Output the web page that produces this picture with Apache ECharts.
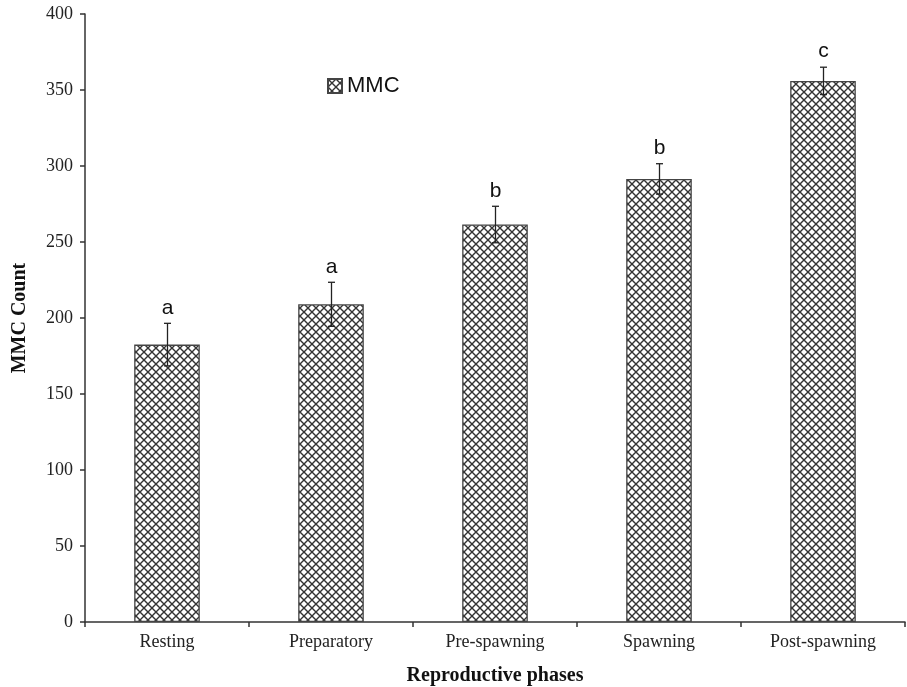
<!DOCTYPE html>
<html>
<head>
<meta charset="utf-8">
<script src="https://cdn.jsdelivr.net/npm/echarts@6/dist/echarts.min.js"></script>
<style>
  html, body { margin: 0; padding: 0; background: #fff; }
  #chart { width: 907px; height: 687px; }
</style>
</head>
<body>
<div id="chart"></div>
<script>
// Reproductive phases and MMC counts (mean ± error)
const phases = ['Resting', 'Preparatory', 'Pre-spawning', 'Spawning', 'Post-spawning'];
const mmcMean = [182.5, 209, 261.5, 291.5, 356];
const mmcError = [14, 14.5, 12, 10, 9];
const groupLetters = ['a', 'a', 'b', 'b', 'c'];
const yTicks = [0, 50, 100, 150, 200, 250, 300, 350, 400];

// Cross-hatch fill tile
function hatchTile() {
  const s = 8;
  const c = document.createElement('canvas');
  c.width = s; c.height = s;
  const g = c.getContext('2d');
  g.fillStyle = '#ffffff';
  g.fillRect(0, 0, s, s);
  g.strokeStyle = '#333333';
  g.lineWidth = 1.4;
  g.beginPath();
  g.moveTo(0, 0); g.lineTo(s, s);
  g.moveTo(s, 0); g.lineTo(0, s);
  g.stroke();
  return c;
}
const hatch = { image: hatchTile(), repeat: 'repeat' };

const chart = echarts.init(document.getElementById('chart'), null, { renderer: 'canvas' });

const errData = phases.map((p, i) => [i, mmcMean[i] - mmcError[i], mmcMean[i] + mmcError[i]]);

chart.setOption({
  animation: false,
  backgroundColor: '#ffffff',
  grid: { left: 85, right: 2, top: 14, bottom: 65, containLabel: false, outerBoundsMode: 'none' },
  legend: {
    left: 322, top: 70,
    itemWidth: 14, itemHeight: 14, itemGap: 4,
    icon: 'rect',
    data: ['MMC'],
    textStyle: { fontFamily: 'Liberation Sans, Arial', fontSize: 22, color: '#111', padding: [0, 0, 0, 0] }
  },
  xAxis: {
    type: 'category',
    data: phases,
    name: 'Reproductive phases',
    nameLocation: 'middle',
    nameGap: 44,
    nameTextStyle: { fontFamily: 'Liberation Serif', fontWeight: 'bold', fontSize: 20, color: '#111' },
    axisLine: { lineStyle: { color: '#333', width: 1.5 } },
    axisTick: { show: true, alignWithLabel: false, length: 5, lineStyle: { color: '#333', width: 1.5 } },
    axisLabel: { fontFamily: 'Liberation Serif', fontSize: 18, color: '#222', margin: 11 }
  },
  yAxis: {
    type: 'value',
    min: yTicks[0], max: yTicks[yTicks.length - 1], interval: 50,
    name: 'MMC Count',
    nameLocation: 'middle',
    nameGap: 55,
    nameRotate: 90,
    nameTextStyle: { fontFamily: 'Liberation Serif', fontWeight: 'bold', fontSize: 20, color: '#111' },
    axisLine: { show: true, lineStyle: { color: '#333', width: 1.5 } },
    axisTick: { show: true, length: 5, lineStyle: { color: '#333', width: 1.5 } },
    axisLabel: { fontFamily: 'Liberation Serif', fontSize: 18, color: '#222', margin: 12 },
    splitLine: { show: false }
  },
  series: [
    {
      name: 'MMC',
      type: 'bar',
      data: mmcMean,
      barWidth: '40%',
      itemStyle: { color: hatch, borderColor: '#444', borderWidth: 1.3 }
    },
    {
      name: 'error',
      type: 'custom',
      data: errData,
      z: 5,
      renderItem: function (params, api) {
        const i = api.value(0);
        const lo = api.coord([i, api.value(1)]);
        const hi = api.coord([i, api.value(2)]);
        const x = Math.round(lo[0]) + 0.5;
        const cap = 3.5;
        const st = { stroke: '#222', lineWidth: 1.3 };
        return {
          type: 'group',
          children: [
            { type: 'line', shape: { x1: x, y1: lo[1], x2: x, y2: hi[1] }, style: st },
            { type: 'line', shape: { x1: x - cap, y1: hi[1], x2: x + cap, y2: hi[1] }, style: st },
            { type: 'line', shape: { x1: x - cap, y1: lo[1], x2: x + cap, y2: lo[1] }, style: st },
            {
              type: 'text',
              style: {
                text: groupLetters[params.dataIndex],
                x: x, y: hi[1] - 5,
                align: 'center', verticalAlign: 'bottom',
                fontFamily: 'Liberation Sans, Arial', fontSize: 21, fill: '#111'
              }
            }
          ]
        };
      }
    }
  ]
});
</script>
</body>
</html>
